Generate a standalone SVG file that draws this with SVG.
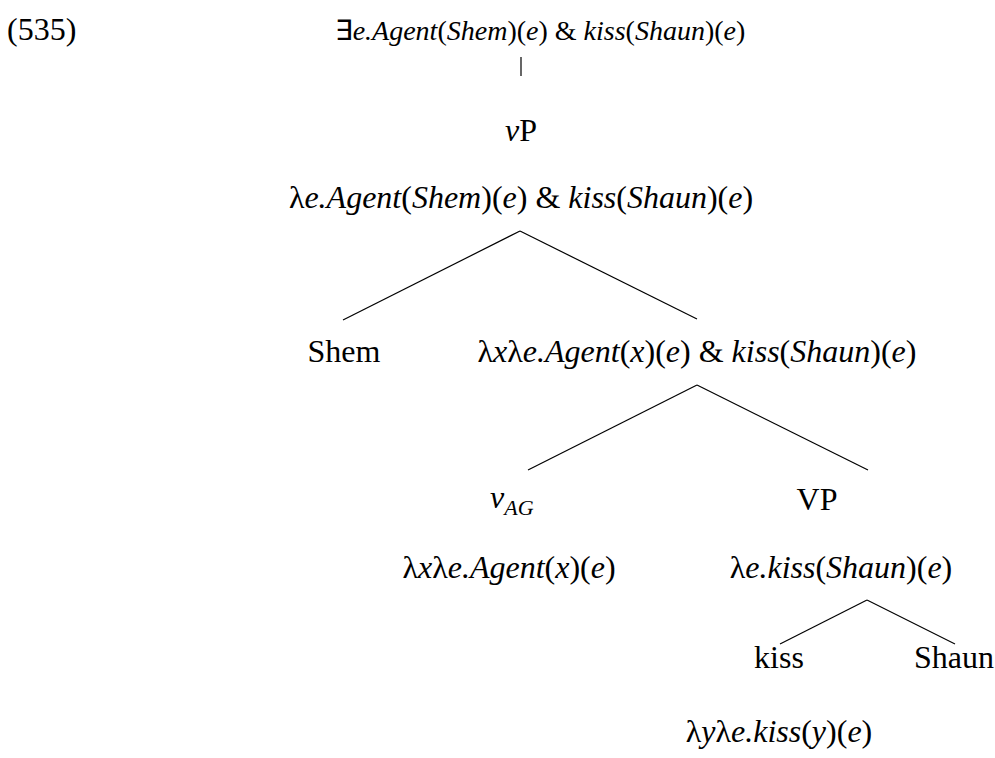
<svg xmlns="http://www.w3.org/2000/svg" width="995" height="758" viewBox="0 0 995 758">
  <style>
    svg text, svg tspan { font-family: "Liberation Serif", serif; }
    svg text { font-size: 32px; fill: #000; }
    .i { font-style: italic; }
    .sub { font-size: 22px; }
    .top { font-size: 28px; }
    .edge { stroke: #000; stroke-width: 1.2; fill: none; }
  </style>
  <rect width="995" height="758" fill="#fff"/>

  <text x="7" y="40" font-family="Liberation Serif, serif">(535)</text>

  <!-- sentence meaning after existential closure -->
  <g id="root">
    <text class="top" x="540" y="40" text-anchor="middle" font-family="Liberation Serif, serif">∃<tspan class="i">e.Agent</tspan>(<tspan class="i">Shem</tspan>)(<tspan class="i">e</tspan>) &amp; <tspan class="i">kiss</tspan>(<tspan class="i">Shaun</tspan>)(<tspan class="i">e</tspan>)</text>
  </g>

  <g id="vP">
    <text x="521" y="141" text-anchor="middle" font-family="Liberation Serif, serif"><tspan class="i">v</tspan>P</text>
    <text x="521" y="208" text-anchor="middle" font-family="Liberation Serif, serif">λ<tspan class="i">e.Agent</tspan>(<tspan class="i">Shem</tspan>)(<tspan class="i">e</tspan>) &amp; <tspan class="i">kiss</tspan>(<tspan class="i">Shaun</tspan>)(<tspan class="i">e</tspan>)</text>
  </g>

  <g id="shem">
    <text x="344" y="362" text-anchor="middle" font-family="Liberation Serif, serif">Shem</text>
  </g>

  <g id="vbar">
    <text x="697" y="362" text-anchor="middle" font-family="Liberation Serif, serif">λ<tspan class="i">x</tspan>λ<tspan class="i">e.Agent</tspan>(<tspan class="i">x</tspan>)(<tspan class="i">e</tspan>) &amp; <tspan class="i">kiss</tspan>(<tspan class="i">Shaun</tspan>)(<tspan class="i">e</tspan>)</text>
  </g>

  <g id="vAG">
    <text class="i" x="490" y="508" font-family="Liberation Serif, serif">v<tspan class="sub" dy="7">AG</tspan></text>
    <text x="509" y="578" text-anchor="middle" font-family="Liberation Serif, serif">λ<tspan class="i">x</tspan>λ<tspan class="i">e.Agent</tspan>(<tspan class="i">x</tspan>)(<tspan class="i">e</tspan>)</text>
  </g>

  <g id="VP">
    <text x="817" y="510" text-anchor="middle" font-family="Liberation Serif, serif">VP</text>
    <text x="841" y="578" text-anchor="middle" font-family="Liberation Serif, serif">λ<tspan class="i">e.kiss</tspan>(<tspan class="i">Shaun</tspan>)(<tspan class="i">e</tspan>)</text>
  </g>

  <g id="kiss">
    <text x="779" y="668" text-anchor="middle" font-family="Liberation Serif, serif">kiss</text>
    <text x="779" y="742" text-anchor="middle" font-family="Liberation Serif, serif">λ<tspan class="i">y</tspan>λ<tspan class="i">e.kiss</tspan>(<tspan class="i">y</tspan>)(<tspan class="i">e</tspan>)</text>
  </g>

  <g id="shaun">
    <text x="954" y="668" text-anchor="middle" font-family="Liberation Serif, serif">Shaun</text>
  </g>

  <g id="connectors">
    <line class="edge" x1="521" y1="57" x2="521" y2="76" stroke-width="2"/>
    <line class="edge" x1="520" y1="231" x2="343" y2="320"/>
    <line class="edge" x1="520" y1="231" x2="697" y2="319"/>
    <line class="edge" x1="697" y1="385" x2="528" y2="470"/>
    <line class="edge" x1="697" y1="385" x2="868" y2="470"/>
    <line class="edge" x1="867" y1="600" x2="780" y2="644"/>
    <line class="edge" x1="867" y1="600" x2="955" y2="644"/>
  </g>
</svg>
